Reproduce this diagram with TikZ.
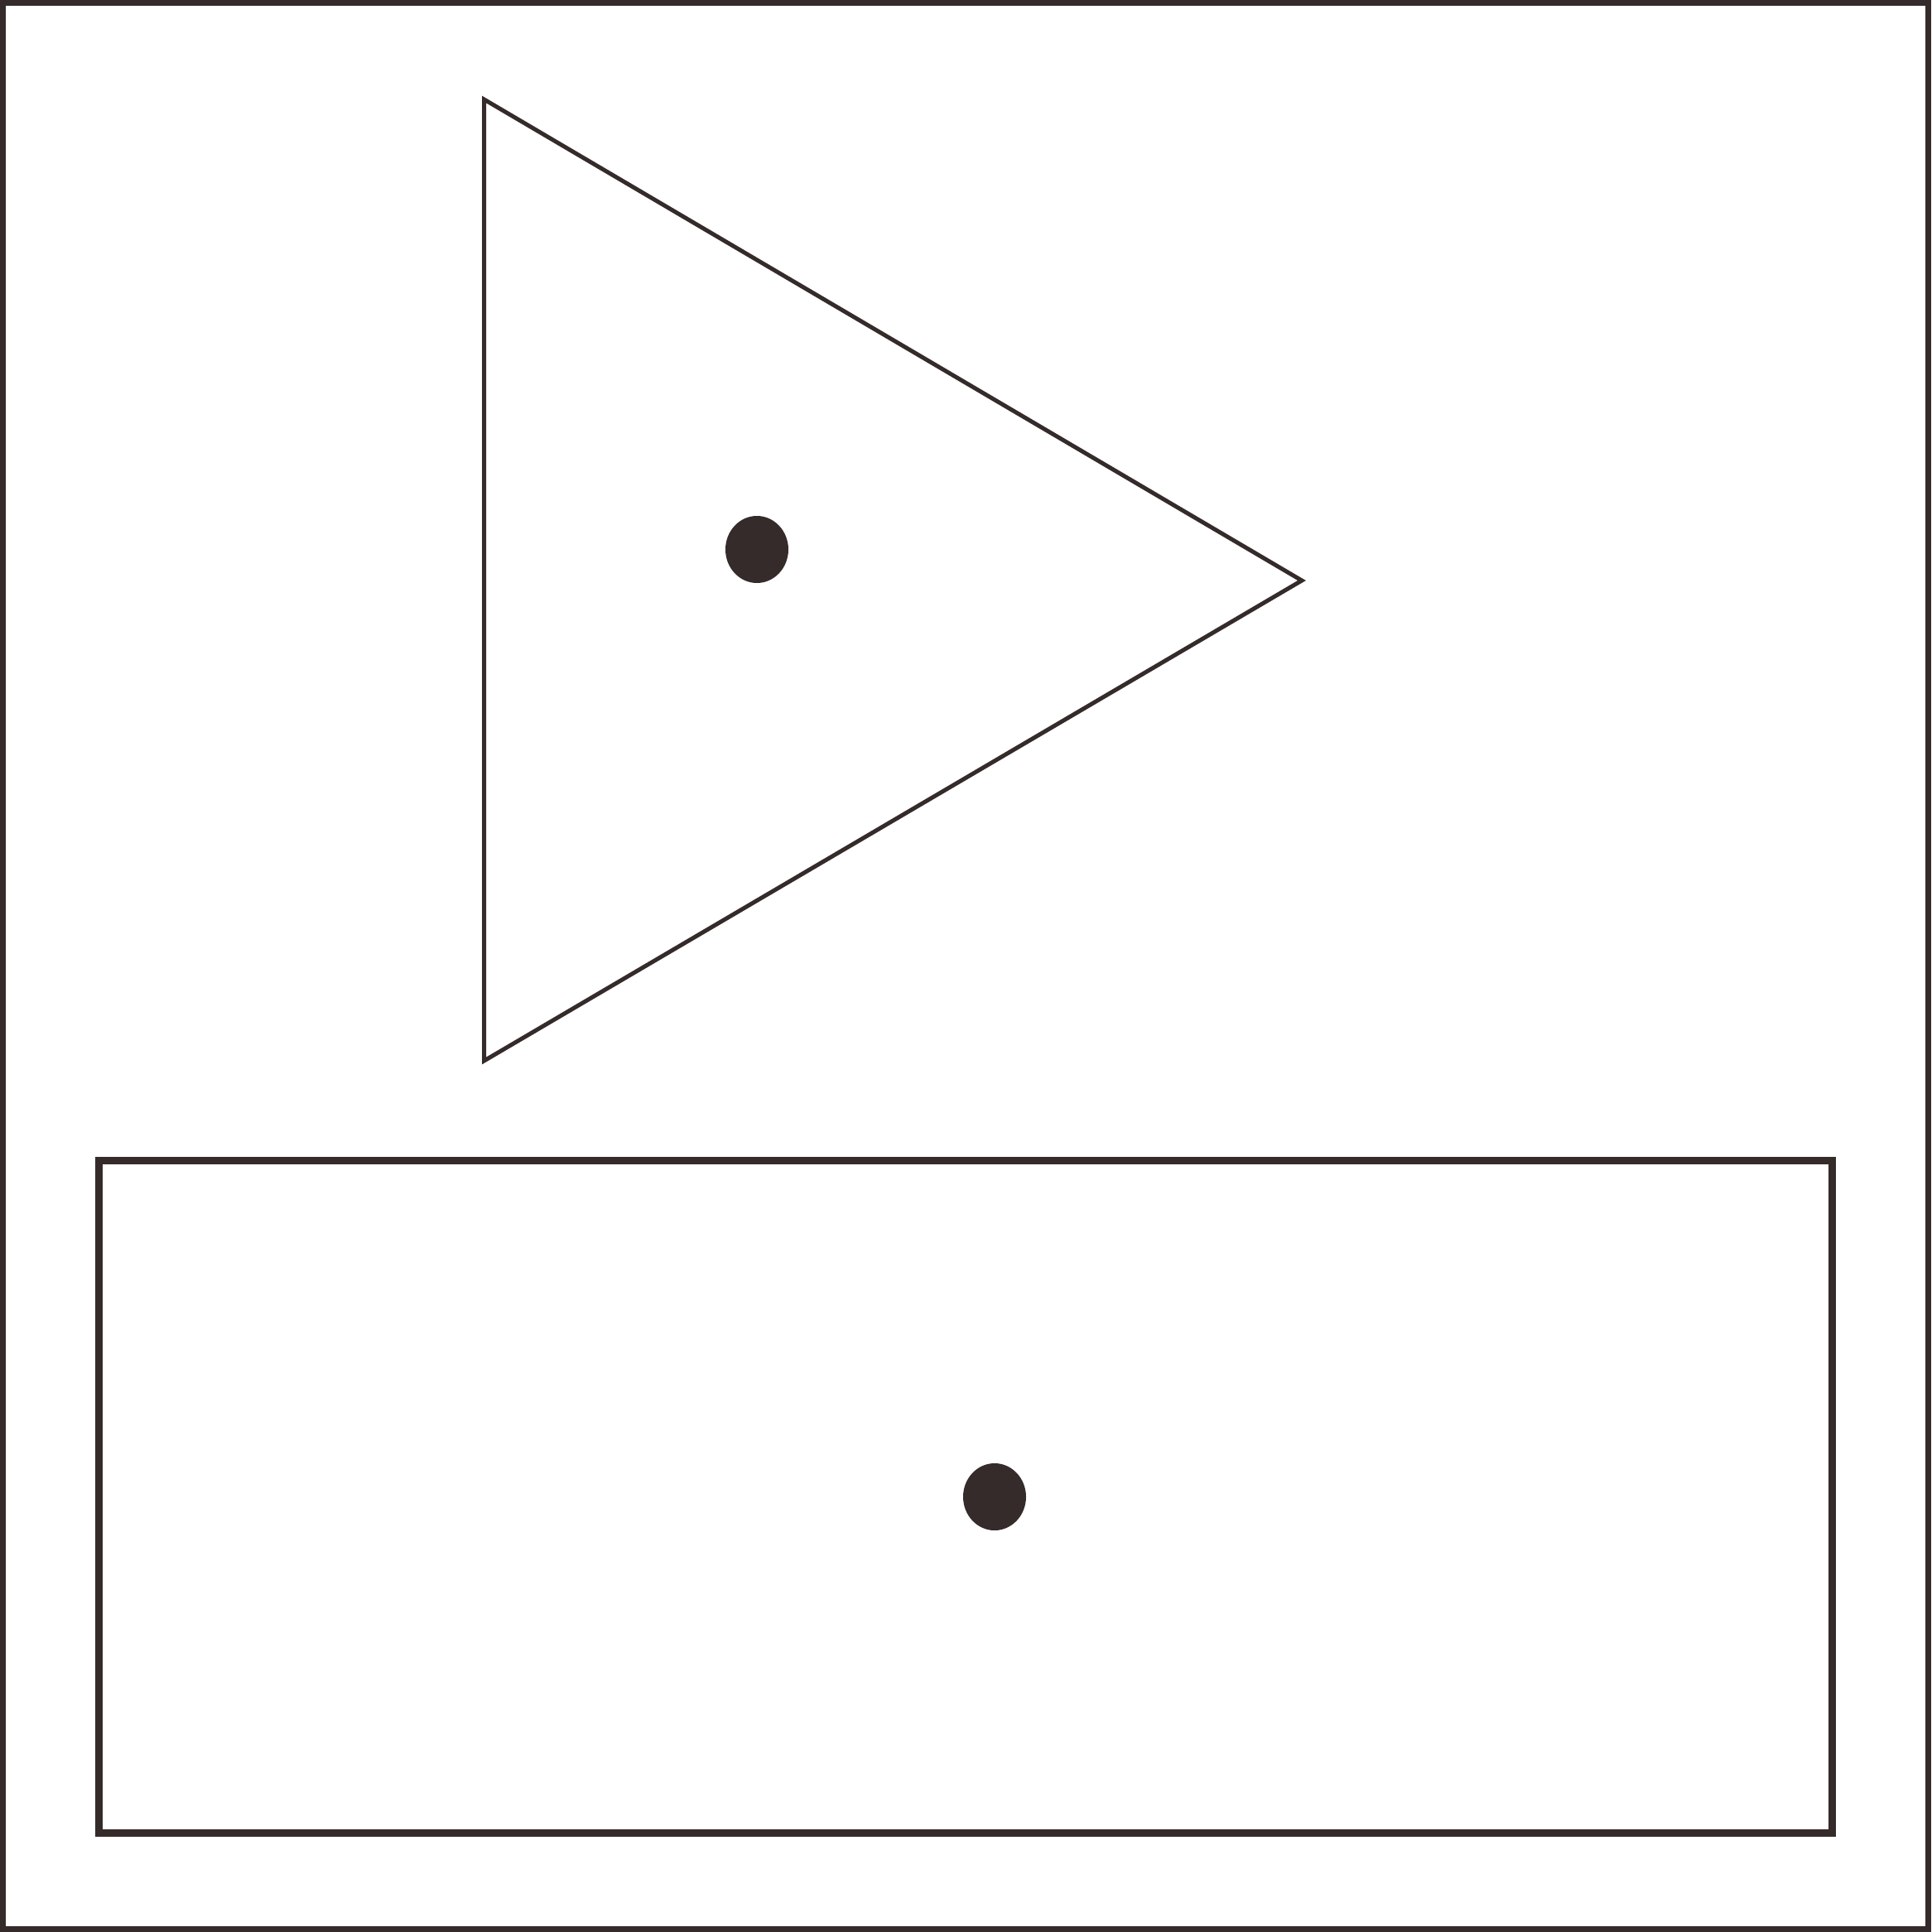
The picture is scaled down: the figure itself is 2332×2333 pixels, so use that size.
\documentclass[tikz,border=0pt]{standalone}
\definecolor{ink}{RGB}{52,43,42}
\begin{document}
\begin{tikzpicture}[x=0.01cm,y=-0.01cm,
  frame/.style={draw=ink,line width=7\pgflinewidth},
  dotmark/.style={fill=ink,draw=none}]
\useasboundingbox (0,0) rectangle (2332,2333);
% outer frame
\draw[draw=ink,line width=0.07cm] (3.5,3.5) rectangle (2328.5,2329.5);
% triangle
\draw[draw=ink,line width=0.05cm,line join=miter] (584.5,120) -- (1572,701) -- (584.5,1281) -- cycle;
% rectangle
\draw[draw=ink,line width=0.09cm] (119.5,1401.5) rectangle (2212.5,2213.5);
% dots
\fill[ink] (914,663.5) ellipse [x radius=38, y radius=40.5];
\fill[ink] (1201,1807.5) ellipse [x radius=38, y radius=40.5];
\end{tikzpicture}
\end{document}
